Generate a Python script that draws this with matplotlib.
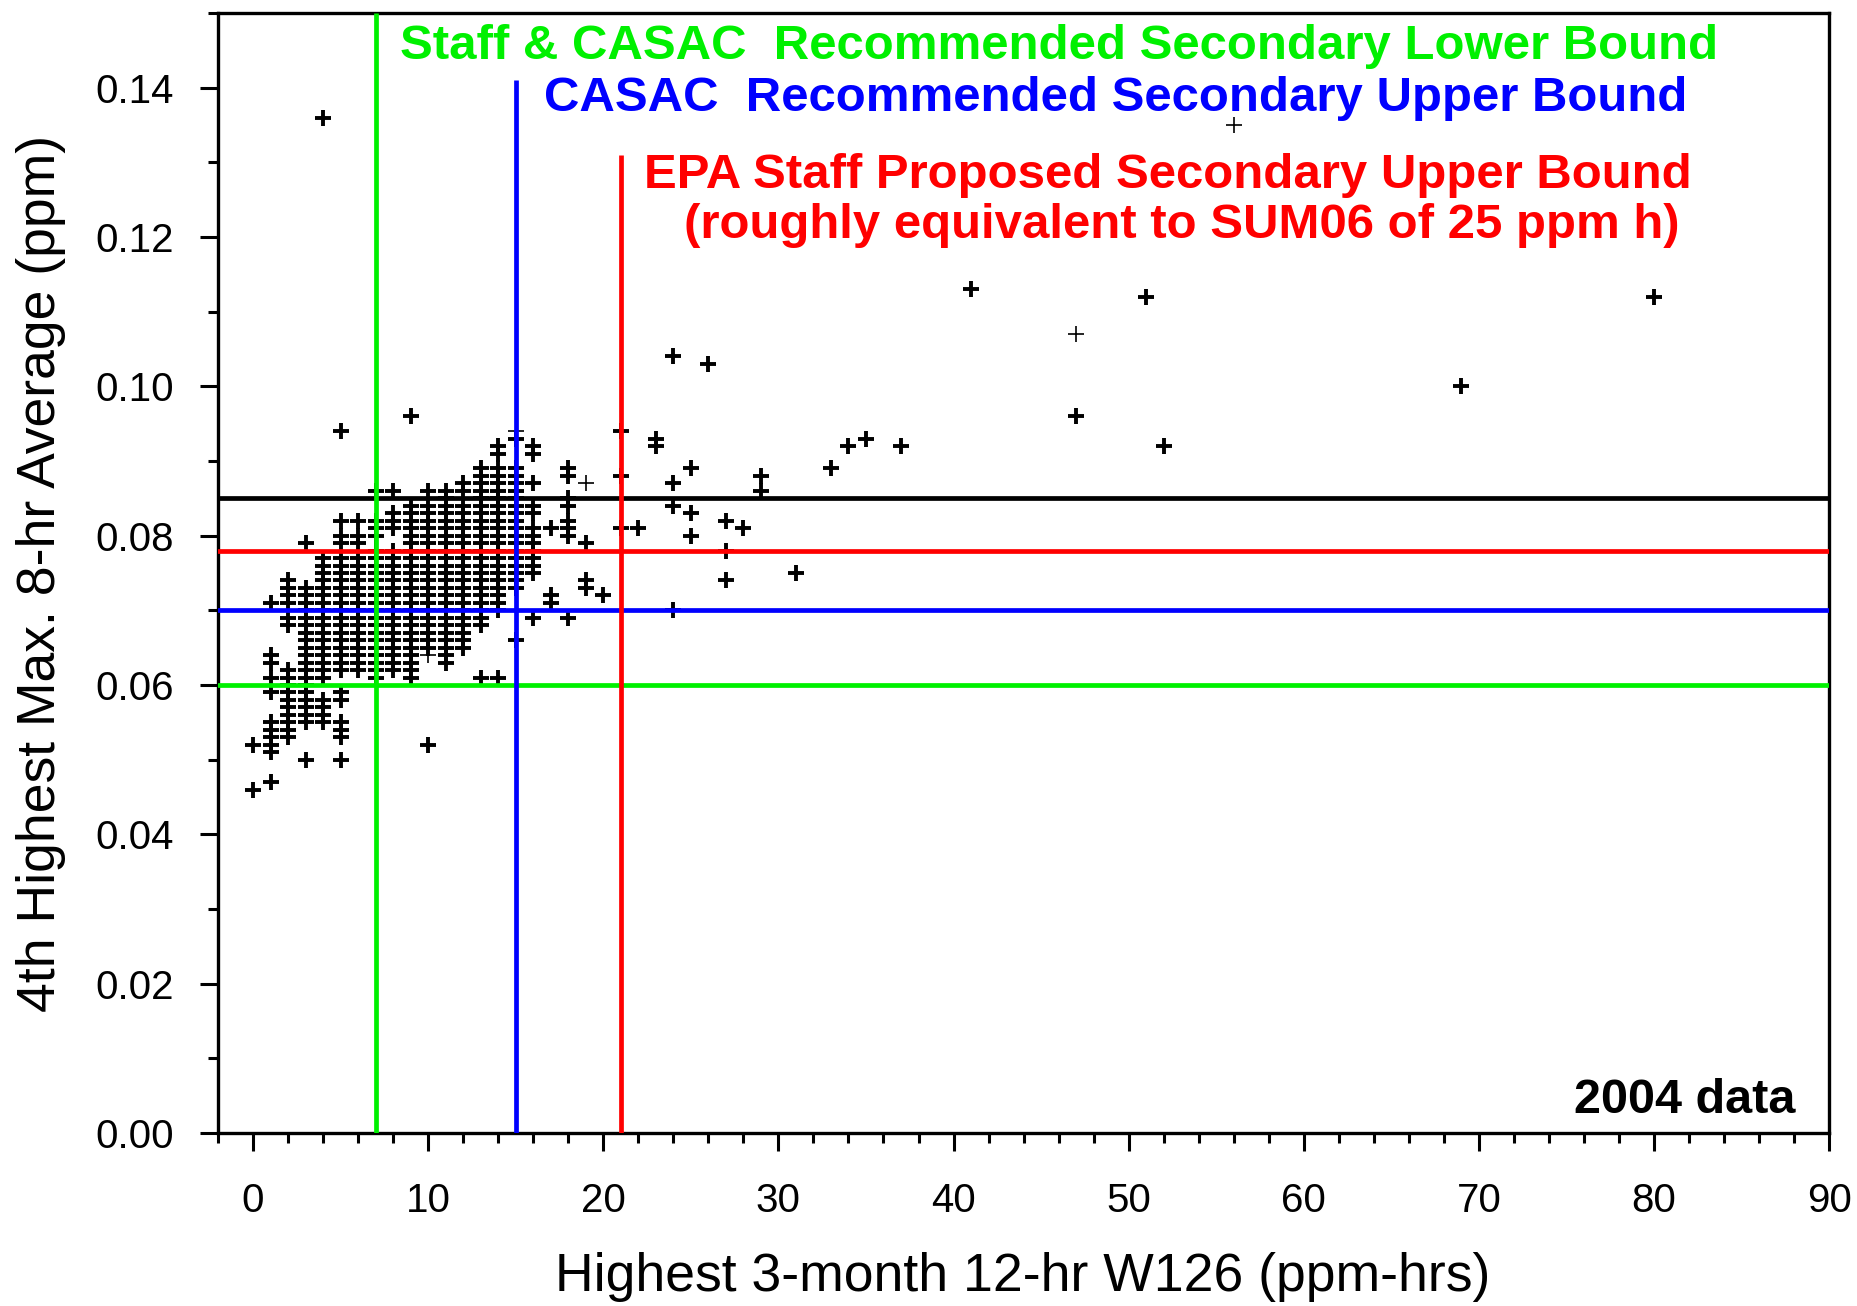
import matplotlib
matplotlib.use("Agg")
import matplotlib.pyplot as plt
from matplotlib.ticker import MultipleLocator, FormatStrFormatter

plt.rcParams['font.family'] = ['Liberation Sans', 'DejaVu Sans']

# W126 (ppm-hrs) columns and the 4th highest 8-hr values (ppb) read at each
col_x = [0, 1, 2, 3, 4, 5, 6, 7, 8, 9, 10, 11, 12, 13, 14, 15, 16, 17, 18, 19,
         20, 21, 22, 23, 24, 25, 26, 27, 28, 29, 31, 33, 34, 35, 37, 41, 47, 51,
         52, 69, 80]
col_ppb = [
    [46, 52],
    [47, 51, 52, 53, 54, 55, 59, 61, 63, 64, 71],
    [53, 54, 55, 56, 57, 58, 59, 60, 61, 62, 68, 69, 71, 72, 73, 74],
    [50, 55, 56, 57, 58, 59, 60, 61, 62, 63, 64, 65, 66, 67, 68, 69, 70, 71, 72, 73, 79],
    [55, 56, 57, 58, 61, 62, 63, 64, 65, 66, 67, 68, 69, 70, 71, 72, 73, 74, 75, 76, 77, 136],
    [50, 53, 54, 55, 58, 59, 62, 63, 64, 65, 66, 67, 68, 69, 70, 71, 72, 73, 74, 75, 76, 77,
     79, 80, 82, 94],
    [62, 63, 64, 65, 66, 67, 68, 69, 70, 71, 72, 73, 74, 75, 76, 77, 79, 80, 82],
    [61, 62, 63, 64, 65, 66, 67, 68, 69, 70, 71, 72, 73, 74, 75, 76, 77, 78, 80, 81, 82, 86],
    [62, 63, 64, 65, 66, 67, 68, 69, 70, 71, 72, 73, 74, 75, 76, 77, 78, 81, 82, 83, 86],
    [61, 62, 63, 64, 65, 66, 67, 68, 69, 70, 71, 72, 73, 74, 75, 76, 77, 78, 79, 80, 81, 82,
     83, 84, 96],
    [52, 65, 66, 67, 68, 69, 70, 71, 72, 73, 74, 75, 76, 77, 78, 79, 80, 81, 82, 83, 84, 86],
    [63, 64, 65, 66, 67, 68, 69, 70, 71, 72, 73, 74, 75, 76, 77, 78, 79, 80, 81, 82, 83, 84,
     85, 86],
    [65, 66, 67, 68, 69, 70, 71, 72, 73, 74, 75, 76, 77, 78, 79, 80, 81, 82, 83, 84, 86, 87],
    [61, 68, 69, 70, 71, 72, 73, 74, 75, 76, 77, 78, 79, 80, 81, 82, 83, 84, 85, 86, 87, 88, 89],
    [61, 70, 71, 72, 73, 74, 75, 76, 77, 78, 79, 80, 81, 82, 83, 84, 85, 86, 87, 88, 89, 91, 92],
    [66, 73, 74, 75, 76, 77, 78, 79, 80, 81, 82, 83, 84, 85, 86, 87, 88, 89, 93],
    [69, 75, 76, 77, 78, 79, 80, 81, 83, 84, 87, 91, 92],
    [71, 72, 81],
    [69, 80, 81, 82, 84, 85, 88, 89],
    [73, 74, 79],
    [72],
    [81, 88, 94],
    [81],
    [92, 93],
    [70, 84, 87, 104],
    [80, 83, 89],
    [103],
    [74, 78, 82],
    [81],
    [86, 88],
    [75],
    [89],
    [92],
    [93],
    [92],
    [113],
    [96],
    [112],
    [92],
    [100],
    [112],
]

# a few sites drawn with a thinner cross
thin_x = [10, 15, 19, 47, 56]
thin_ppb = [64, 94, 87, 107, 135]

# reference levels
hline_y = [0.085, 0.078, 0.070, 0.060]
hline_c = ['black', '#ff0000', '#0000ff', '#00f000']
vline_x = [7, 15, 21]
vline_top = [0.15, 0.141, 0.131]
vline_c = ['#00f000', '#0000ff', '#ff0000']

xs, ys = [], []
for x, col in zip(col_x, col_ppb):
    for v in col:
        xs.append(x)
        ys.append(v / 1000)

fig = plt.figure(figsize=(18.57, 13.06), dpi=100)
ax = fig.add_axes([0.1174, 0.1325, 0.8676, 0.8575])

ax.plot(xs, ys, linestyle='none', marker='+', color='black', ms=11, mew=2.8, zorder=2)
ax.plot(thin_x, [v / 1000 for v in thin_ppb], linestyle='none', marker='+',
        color='black', ms=11, mew=1.2, zorder=2)

for y, c in zip(hline_y, hline_c):
    ax.axhline(y, color=c, lw=3.4, zorder=3)
for x, top, c in zip(vline_x, vline_top, vline_c):
    ax.plot([x, x], [0, top], color=c, lw=3.4, zorder=3, solid_capstyle='butt')

ax.set_xlim(-2, 90)
ax.set_ylim(0, 0.15)
ax.xaxis.set_major_locator(MultipleLocator(10))
ax.xaxis.set_minor_locator(MultipleLocator(2))
ax.yaxis.set_major_locator(MultipleLocator(0.02))
ax.yaxis.set_minor_locator(MultipleLocator(0.01))
ax.yaxis.set_major_formatter(FormatStrFormatter('%.2f'))
ax.tick_params(which='major', length=13, width=2.2, labelsize=29, direction='out')
ax.tick_params(which='minor', length=7, width=2.2, direction='out')
ax.tick_params(axis='x', which='major', pad=22)
ax.tick_params(axis='y', which='major', pad=19)
for s in ax.spines.values():
    s.set_linewidth(2.4)

ax.set_xlabel('Highest 3-month 12-hr W126 (ppm-hrs)', fontsize=38.5)
ax.set_ylabel('4th Highest Max. 8-hr Average (ppm)', fontsize=38.5)
ax.xaxis.set_label_coords(0.4994, -0.1286)
ax.xaxis.label.set_va('center')
ax.yaxis.set_label_coords(-0.1098, 0.5)
ax.yaxis.label.set_va('center')

tkw = dict(fontsize=35.4, fontweight='bold', ha='left', va='center')
ax.text(8.4, 0.1455, 'Staff & CASAC  Recommended Secondary Lower Bound', color='#00f000', **tkw)
ax.text(16.6, 0.1386, 'CASAC  Recommended Secondary Upper Bound', color='#0000ff', **tkw)
ax.text(22.3, 0.1282, 'EPA Staff Proposed Secondary Upper Bound', color='#ff0000', **tkw)
ax.text(24.6, 0.1216, '(roughly equivalent to SUM06 of 25 ppm h)', color='#ff0000', **tkw)
ax.text(88.1, 0.0044, '2004 data', fontsize=35, fontweight='bold', ha='right', va='center')

fig.savefig('out.png', dpi=100)
